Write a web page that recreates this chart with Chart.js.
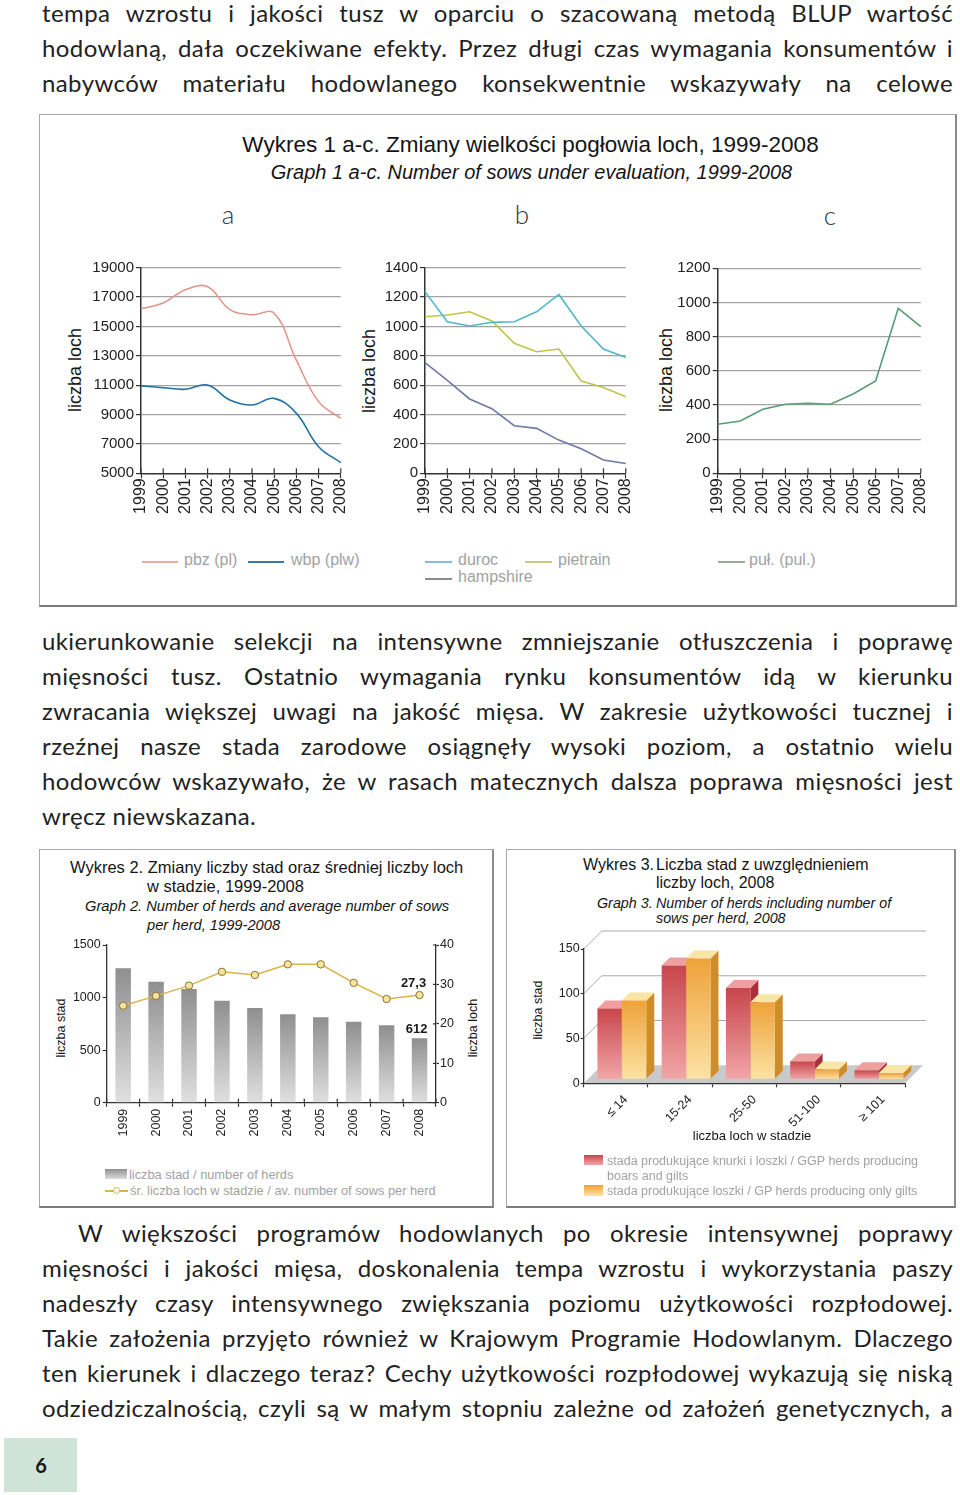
<!DOCTYPE html>
<html lang="pl">
<head>
<meta charset="utf-8">
<script src="https://cdn.jsdelivr.net/npm/chart.js@4.4.0/dist/chart.umd.min.js"></script>
<style>
  html,body{margin:0;padding:0;background:#fff;}
  body{width:960px;height:1495px;position:relative;overflow:hidden;}
  .jl{position:absolute;display:inline-block;white-space:pre;font-family:Lato,'Open Sans',sans-serif;font-weight:400;font-size:24px;letter-spacing:0.4px;line-height:35px;color:#222;}
  .t{position:absolute;white-space:nowrap;font-family:'Liberation Sans',Arial,sans-serif;color:#151515;}
  .cc{transform:translate(-50%,-50%);}
  .lc{transform:translateY(-50%);}
  .rot{transform:translate(-50%,-50%) rotate(-90deg);}
  .box{position:absolute;box-sizing:border-box;border-top:1px solid #a8a8a8;border-left:1px solid #a8a8a8;border-right:2px solid #8c8c8c;border-bottom:2px solid #7c7c7c;}
  canvas{position:absolute;}
  .lg{color:#a2a2a2;}
  .sw{position:absolute;}
</style>
</head>
<body>

<!-- top paragraph -->
<span class="jl" data-w="911" style="left:42px;top:-5px">tempa wzrostu i jakości tusz w oparciu o szacowaną metodą BLUP wartość</span>
<span class="jl" data-w="911" style="left:42px;top:30px">hodowlaną, dała oczekiwane efekty. Przez długi czas wymagania konsumentów i</span>
<span class="jl" data-w="911" style="left:42px;top:65px">nabywców materiału hodowlanego konsekwentnie wskazywały na celowe</span>

<!-- Graph 1 box -->
<div class="box" style="left:39px;top:114px;width:918px;height:493px;"></div>
<div class="t cc" style="left:530.5px;top:145px;font-size:22.5px;">Wykres 1 a-c. Zmiany wielkości pogłowia loch, 1999-2008</div>
<div class="t cc" style="left:531.5px;top:172px;font-size:20px;font-style:italic;">Graph 1 a-c. Number of sows under evaluation, 1999-2008</div>
<div class="t cc" style="left:228px;top:214px;font-size:26px;font-family:Lato,sans-serif;font-weight:300;color:#333;">a</div>
<div class="t cc" style="left:522px;top:214px;font-size:26px;font-family:Lato,sans-serif;font-weight:300;color:#333;">b</div>
<div class="t cc" style="left:830px;top:215px;font-size:26px;font-family:Lato,sans-serif;font-weight:300;color:#333;">c</div>
<div class="t rot" style="left:75px;top:370px;font-size:18px;">liczba loch</div>
<div class="t rot" style="left:369px;top:371px;font-size:18px;">liczba loch</div>
<div class="t rot" style="left:666px;top:370px;font-size:18px;">liczba loch</div>

<canvas id="ca"></canvas>
<canvas id="cb"></canvas>
<canvas id="cc"></canvas>

<!-- Graph 1 legends -->
<div class="sw" style="left:142px;top:561px;width:36px;height:2px;background:#e8aca4;"></div>
<div class="t lc lg" style="left:184px;top:560px;font-size:16px;">pbz (pl)</div>
<div class="sw" style="left:248px;top:561px;width:36px;height:2px;background:#3a7ca5;"></div>
<div class="t lc lg" style="left:291px;top:560px;font-size:16px;">wbp (plw)</div>
<div class="sw" style="left:425px;top:561px;width:27px;height:2px;background:#7ec0dc;"></div>
<div class="t lc lg" style="left:458px;top:560px;font-size:16px;">duroc</div>
<div class="sw" style="left:525px;top:561px;width:27px;height:2px;background:#c8cc80;"></div>
<div class="t lc lg" style="left:558px;top:560px;font-size:16px;">pietrain</div>
<div class="sw" style="left:425px;top:578px;width:27px;height:2px;background:#8a8a8a;"></div>
<div class="t lc lg" style="left:458px;top:577px;font-size:16px;">hampshire</div>
<div class="sw" style="left:718px;top:561px;width:27px;height:2px;background:#9aa8a0;"></div>
<div class="t lc lg" style="left:749px;top:560px;font-size:16px;">puł. (pul.)</div>

<!-- middle paragraph -->
<span class="jl" data-w="911" style="left:42px;top:623px">ukierunkowanie selekcji na intensywne zmniejszanie otłuszczenia i poprawę</span>
<span class="jl" data-w="911" style="left:42px;top:658px">mięsności tusz. Ostatnio wymagania rynku konsumentów idą w kierunku</span>
<span class="jl" data-w="911" style="left:42px;top:693px">zwracania większej uwagi na jakość mięsa. W zakresie użytkowości tucznej i</span>
<span class="jl" data-w="911" style="left:42px;top:728px">rzeźnej nasze stada zarodowe osiągnęły wysoki poziom, a ostatnio wielu</span>
<span class="jl" data-w="911" style="left:42px;top:763px">hodowców wskazywało, że w rasach matecznych dalsza poprawa mięsności jest</span>
<span class="jl" style="left:42px;top:798px">wręcz niewskazana.</span>

<!-- Graph 2 box -->
<div class="box" style="left:39px;top:849px;width:455px;height:359px;"></div>
<div class="t lc" style="left:70px;top:867px;font-size:16.5px;">Wykres 2. Zmiany liczby stad oraz średniej liczby loch</div>
<div class="t lc" style="left:147px;top:886px;font-size:16.5px;">w stadzie, 1999-2008</div>
<div class="t lc" style="left:85px;top:906px;font-size:14.7px;font-style:italic;">Graph 2. Number of herds and average number of sows</div>
<div class="t lc" style="left:147px;top:925px;font-size:14.7px;font-style:italic;">per herd, 1999-2008</div>
<div class="t rot" style="left:61px;top:1028px;font-size:12.5px;">liczba stad</div>
<div class="t rot" style="left:473px;top:1028px;font-size:12.5px;">liczba loch</div>
<canvas id="c2"></canvas>
<div class="sw" style="left:105px;top:1169px;width:22px;height:10px;background:linear-gradient(#8f8f8f,#dcdcdc);"></div>
<div class="t lc lg" style="left:129px;top:1174px;font-size:12.8px;">liczba stad / number of herds</div>
<div class="sw" style="left:105px;top:1190px;width:23px;height:1.5px;background:#dcb347;"></div>
<div class="sw" style="left:113px;top:1186.5px;width:7px;height:7px;border-radius:50%;box-sizing:border-box;border:1.3px solid #dcb347;background:#fff;"></div>
<div class="t lc lg" style="left:130px;top:1190px;font-size:12.8px;">śr. liczba loch w stadzie / av. number of sows per herd</div>

<!-- Graph 3 box -->
<div class="box" style="left:506px;top:849px;width:450px;height:359px;"></div>
<div class="t lc" style="left:583px;top:865px;font-size:16px;">Wykres 3.</div>
<div class="t lc" style="left:656px;top:865px;font-size:16px;">Liczba stad z uwzględnieniem</div>
<div class="t lc" style="left:656px;top:883px;font-size:16px;">liczby loch, 2008</div>
<div class="t lc" style="left:597px;top:903px;font-size:14.3px;font-style:italic;">Graph 3.</div>
<div class="t lc" style="left:656px;top:903px;font-size:14.3px;font-style:italic;">Number of herds including number of</div>
<div class="t lc" style="left:656px;top:918px;font-size:14.3px;font-style:italic;">sows per herd, 2008</div>
<div class="t rot" style="left:538px;top:1010px;font-size:12.5px;">liczba stad</div>
<canvas id="c3"></canvas>
<div class="t cc" style="left:752px;top:1135px;font-size:13px;">liczba loch w stadzie</div>
<div class="sw" style="left:584px;top:1155px;width:19px;height:10px;background:linear-gradient(#c7464b,#f2a6a8);"></div>
<div class="t lc lg" style="left:607px;top:1161px;font-size:12.5px;">stada produkujące knurki i loszki / GGP herds producing</div>
<div class="t lc lg" style="left:607px;top:1176px;font-size:12.5px;">boars and gilts</div>
<div class="sw" style="left:584px;top:1185px;width:19px;height:11px;background:linear-gradient(#eea23a,#fbe3a4);"></div>
<div class="t lc lg" style="left:607px;top:1191px;font-size:12.5px;">stada produkujące loszki / GP herds producing only gilts</div>

<!-- bottom paragraph -->
<span class="jl" data-w="875" style="left:78px;top:1215px">W większości programów hodowlanych po okresie intensywnej poprawy</span>
<span class="jl" data-w="911" style="left:42px;top:1250px">mięsności i jakości mięsa, doskonalenia tempa wzrostu i wykorzystania paszy</span>
<span class="jl" data-w="911" style="left:42px;top:1285px">nadeszły czasy intensywnego zwiększania poziomu użytkowości rozpłodowej.</span>
<span class="jl" data-w="911" style="left:42px;top:1320px">Takie założenia przyjęto również w Krajowym Programie Hodowlanym. Dlaczego</span>
<span class="jl" data-w="911" style="left:42px;top:1355px">ten kierunek i dlaczego teraz? Cechy użytkowości rozpłodowej wykazują się niską</span>
<span class="jl" data-w="911" style="left:42px;top:1390px">odziedziczalnością, czyli są w małym stopniu zależne od założeń genetycznych, a</span>

<!-- page number -->
<div class="sw" style="left:4px;top:1438px;width:73px;height:54px;background:#cfe3d7;"></div>
<div class="t cc" style="left:41px;top:1465px;font-size:20px;font-weight:bold;font-family:Lato,sans-serif;">6</div>

<script>
// ---------- DATA ----------
const years = ['1999','2000','2001','2002','2003','2004','2005','2006','2007','2008'];
// Graph 1a
const pbz = [16200,16600,17500,17700,16150,15800,15900,12700,9880,8740];
const wbp = [10950,10830,10720,11010,9990,9650,10100,9080,6810,5730];
// Graph 1b
const duroc = [1237,1032,1003,1028,1032,1100,1218,1003,846,789];
const pietrain = [1066,1078,1100,1037,885,828,846,628,585,521];
const hampshire = [753,632,506,440,324,306,226,167,90,67];
// Graph 1c
const pul = [287,306,375,404,410,404,464,540,966,859];
// Graph 2
const herds = [1278,1151,1081,970,901,841,812,770,736,612];
const sowsPerHerd = [24.6,27.1,29.7,33.2,32.4,35.1,35.1,30.4,26.3,27.3];
// Graph 3
const herdSizes = ['≤ 14','15-24','25-50','51-100','≥ 101'];
const ggpHerds = [79,127,102,20,10];
const gpHerds = [88,135,86,11,7];

const FONT = "'Liberation Sans', Arial, sans-serif";
const AX = '#333';
const plain = v => String(v);

function setCanvas(id, L, T, R, B) {
  const cv = document.getElementById(id);
  cv.width = R - L; cv.height = B - T;
  cv.style.left = L + 'px'; cv.style.top = T + 'px';
  cv.style.width = (R - L) + 'px'; cv.style.height = (B - T) + 'px';
  return cv;
}

function innerTicks(items) {
  return {
    id: 'innerTicks',
    afterDraw(chart) {
      const ctx = chart.ctx;
      items.forEach(it => {
        const s = chart.scales[it.axis];
        let pos = [];
        if (it.boundary) {
          const n = s.ticks.length;
          for (let i = 0; i <= n; i++) pos.push(s.left + i * (s.right - s.left) / n);
        } else {
          pos = s.ticks.map((t, i) => s.getPixelForTick(i));
        }
        ctx.save();
        ctx.strokeStyle = AX; ctx.lineWidth = 1.2;
        ctx.beginPath();
        pos.forEach(p => {
          if (s.isHorizontal()) { ctx.moveTo(p, s.top); ctx.lineTo(p, s.top - it.len); }
          else if (it.side === 'right') { ctx.moveTo(s.left, p); ctx.lineTo(s.left - it.len, p); }
          else { ctx.moveTo(s.right, p); ctx.lineTo(s.right + it.len, p); }
        });
        ctx.stroke();
        ctx.restore();
      });
    }
  };
}

function lineChart(id, L, T, R, B, pl, pt, pr, pb, sets, yMin, yMax, step, tension) {
  const cv = setCanvas(id, L, T, R, B);
  return new Chart(cv, {
    type: 'line',
    data: {
      labels: years,
      datasets: sets.map(d => ({
        label: d.label, data: d.data, borderColor: d.color, borderWidth: 1.6,
        pointRadius: 0, tension: tension, fill: false, clip: false
      }))
    },
    options: {
      responsive: false, animation: false, devicePixelRatio: 1,
      layout: { autoPadding: false, padding: { left: 0, top: pt - T, right: R - pr, bottom: 0 } },
      plugins: { legend: { display: false }, tooltip: { enabled: false } },
      scales: {
        x: {
          type: 'category', offset: false,
          grid: { display: true, drawOnChartArea: false, tickLength: 5, tickColor: AX, tickWidth: 1.2, color: AX },
          border: { display: true, color: AX, width: 1.5 },
          ticks: { autoSkip: false, minRotation: 90, maxRotation: 90, padding: 0, color: '#222', font: { family: FONT, size: 16 } },
          afterFit: s => { s.height = B - pb; }
        },
        y: {
          min: yMin, max: yMax,
          ticks: { stepSize: step, padding: 2, color: '#222', font: { family: FONT, size: 15 }, callback: plain },
          grid: {
            color: c => (c.tick && c.tick.value === yMin) ? 'rgba(0,0,0,0)' : '#a3a3a3',
            lineWidth: 1.2, tickLength: 5, tickColor: AX, tickWidth: 1.2
          },
          border: { color: AX, width: 1.5 },
          afterFit: s => { s.width = pl - L; }
        }
      }
    },
    plugins: [innerTicks([{ axis: 'x', len: 5 }])]
  });
}

function barGrad(c1, c2, axisId) {
  return ctx => {
    if (ctx.type !== 'data') return c1;
    const ch = ctx.chart, a = ch.chartArea;
    if (!a) return c1;
    const sc = ch.scales[axisId || 'y'];
    const top = sc.getPixelForValue(ctx.raw);
    const base = sc.getPixelForValue(0);
    if (!isFinite(top) || Math.abs(base - top) < 1) return c1;
    const g = ch.ctx.createLinearGradient(0, top, 0, base);
    g.addColorStop(0, c1); g.addColorStop(1, c2);
    return g;
  };
}

function build() {
  // Graph 1a
  lineChart('ca', 60, 255, 360, 525, 141, 267.7, 345, 473.3, [
    { label: 'pbz (pl)', data: pbz, color: '#e2968e' },
    { label: 'wbp (plw)', data: wbp, color: '#1f73a0' }
  ], 5000, 19000, 2000, 0.4);
  // Graph 1b
  lineChart('cb', 353, 255, 645, 525, 425, 267.7, 628, 473.3, [
    { label: 'duroc', data: duroc, color: '#4fb9c6' },
    { label: 'pietrain', data: pietrain, color: '#bfc548' },
    { label: 'hampshire', data: hampshire, color: '#6f78a6' }
  ], 0, 1400, 200, 0);
  // Graph 1c
  lineChart('cc', 645, 255, 940, 525, 717.7, 268.3, 921, 473.3, [
    { label: 'puł. (pul.)', data: pul, color: '#569c74' }
  ], 0, 1200, 200, 0);

  // Graph 2
  {
    const L = 45, T = 930, R = 490, B = 1150;
    const pl = 106.7, pt = 945, pr = 436, pb = 1102.7;
    const cv = setCanvas('c2', L, T, R, B);
    const labelPlugin = {
      id: 'lastLabels',
      afterDatasetsDraw(chart) {
        const ctx = chart.ctx;
        const bars = chart.getDatasetMeta(0).data;
        const pts = chart.getDatasetMeta(1).data;
        const n = herds.length - 1;
        ctx.save();
        ctx.font = 'bold 13px ' + FONT;
        ctx.fillStyle = '#1a1a1a';
        ctx.textAlign = 'center'; ctx.textBaseline = 'middle';
        ctx.fillText(String(sowsPerHerd[n]).replace('.', ','), pts[n].x - 6, pts[n].y - 12);
        ctx.fillText(String(herds[n]), bars[n].x - 3, bars[n].y - 9);
        ctx.restore();
      }
    };
    new Chart(cv, {
      type: 'bar',
      data: {
        labels: years,
        datasets: [
          { type: 'bar', label: 'liczba stad / number of herds', data: herds, yAxisID: 'y',
            backgroundColor: barGrad('#8f8f8f', '#e0e0e0', 'y'), borderWidth: 0,
            barPercentage: 0.47, categoryPercentage: 1, order: 1 },
          { type: 'line', label: 'śr. liczba loch w stadzie', data: sowsPerHerd, yAxisID: 'y1',
            borderColor: '#dcb347', borderWidth: 1.5, tension: 0,
            pointRadius: 3.7, pointBackgroundColor: '#f5e3a0', pointBorderColor: '#8c7430', pointBorderWidth: 1,
            order: 0, clip: false }
        ]
      },
      options: {
        responsive: false, animation: false, devicePixelRatio: 1,
        layout: { autoPadding: false, padding: { left: 0, top: pt - T, right: 0, bottom: 0 } },
        plugins: { legend: { display: false }, tooltip: { enabled: false } },
        scales: {
          x: {
            grid: { offset: true, drawOnChartArea: false, tickLength: 4, tickColor: AX, tickWidth: 1.2 },
            border: { color: AX, width: 1.3 },
            ticks: { autoSkip: false, minRotation: 90, maxRotation: 90, padding: 2, color: '#222', font: { family: FONT, size: 12.5 } },
            afterFit: s => { s.height = B - pb; }
          },
          y: {
            position: 'left', min: 0, max: 1500,
            ticks: { stepSize: 500, padding: 2, color: '#222', font: { family: FONT, size: 12.5 }, callback: plain },
            grid: { drawOnChartArea: false, tickLength: 4, tickColor: AX, tickWidth: 1.2 },
            border: { color: AX, width: 1.3 },
            afterFit: s => { s.width = pl - L; }
          },
          y1: {
            position: 'right', min: 0, max: 40,
            ticks: { stepSize: 10, padding: 1, color: '#222', font: { family: FONT, size: 12.5 }, callback: plain },
            grid: { drawOnChartArea: false, tickLength: 3, tickColor: AX, tickWidth: 1.2 },
            border: { color: AX, width: 1.3 },
            afterFit: s => { s.width = R - pr; }
          }
        }
      },
      plugins: [labelPlugin, innerTicks([{ axis: 'x', len: 4, boundary: true }, { axis: 'y1', len: 3, side: 'right' }])]
    });
  }

  // Graph 3
  {
    const L = 540, T = 920, R = 950, B = 1150;
    const pl = 583.7, pt = 949, pr = 905, pb = 1083.3;
    const cv = setCanvas('c3', L, T, R, B);
    const D = 18, d = 8, SX = 6, SY = -4;
    const topCols = ['#ef9fa0', '#f9e6a6'];
    const sideCols = ['#a8303a', '#cf8c2a'];
    const threeD = {
      id: 'threeD',
      beforeDraw(chart) {
        const { ctx, chartArea: a, scales: { y } } = chart;
        const y0 = y.getPixelForValue(0);
        ctx.save();
        ctx.fillStyle = '#c9c9c9';
        ctx.beginPath();
        ctx.moveTo(a.left, y0); ctx.lineTo(a.right, y0);
        ctx.lineTo(a.right + D, y0 - D); ctx.lineTo(a.left + D, y0 - D);
        ctx.closePath(); ctx.fill();
        ctx.strokeStyle = '#a9a9a9'; ctx.lineWidth = 1;
        y.ticks.forEach(t => {
          if (t.value === 0) return;
          const py = y.getPixelForValue(t.value);
          ctx.beginPath();
          ctx.moveTo(a.left, py); ctx.lineTo(a.left + D, py - D); ctx.lineTo(a.right + 21, py - D);
          ctx.stroke();
        });
        ctx.restore();
      },
      beforeDatasetsDraw(chart) {
        const ctx = chart.ctx;
        ctx.save();
        ctx.translate(SX, SY);
        for (let i = 0; i < chart.data.datasets.length; i++) {
          chart.getDatasetMeta(i).data.forEach(bar => {
            const l = bar.x - bar.width / 2, r = bar.x + bar.width / 2, top = bar.y, base = bar.base;
            ctx.fillStyle = sideCols[i];
            ctx.beginPath();
            ctx.moveTo(r, top); ctx.lineTo(r + d, top - d); ctx.lineTo(r + d, base - d); ctx.lineTo(r, base);
            ctx.closePath(); ctx.fill();
            ctx.fillStyle = topCols[i];
            ctx.beginPath();
            ctx.moveTo(l, top); ctx.lineTo(r, top); ctx.lineTo(r + d, top - d); ctx.lineTo(l + d, top - d);
            ctx.closePath(); ctx.fill();
          });
        }
      },
      afterDatasetsDraw(chart) {
        chart.ctx.restore();
      }
    };
    new Chart(cv, {
      type: 'bar',
      data: {
        labels: herdSizes,
        datasets: [
          { label: 'GGP', data: ggpHerds, backgroundColor: barGrad('#c7464b', '#f2a6a8', 'y'), borderWidth: 0,
            categoryPercentage: 0.76, barPercentage: 1, clip: false },
          { label: 'GP', data: gpHerds, backgroundColor: barGrad('#eea23a', '#fbe3a4', 'y'), borderWidth: 0,
            categoryPercentage: 0.76, barPercentage: 1, clip: false }
        ]
      },
      options: {
        responsive: false, animation: false, devicePixelRatio: 1,
        layout: { autoPadding: false, padding: { left: 0, top: pt - T, right: R - pr, bottom: 0 } },
        plugins: { legend: { display: false }, tooltip: { enabled: false } },
        scales: {
          x: {
            grid: { offset: true, drawOnChartArea: false, tickLength: 4, tickColor: AX, tickWidth: 1.2 },
            border: { color: AX, width: 1.3 },
            ticks: { autoSkip: false, minRotation: 45, maxRotation: 45, labelOffset: 10, padding: 5, color: '#222', font: { family: FONT, size: 12.5 } },
            afterFit: s => { s.height = B - pb; }
          },
          y: {
            min: 0, max: 150,
            ticks: { stepSize: 50, padding: 1, color: '#222', font: { family: FONT, size: 12.5 }, callback: plain },
            grid: { drawOnChartArea: false, tickLength: 3, tickColor: AX, tickWidth: 1.2 },
            border: { color: AX, width: 1.3 },
            afterFit: s => { s.width = pl - L; }
          }
        }
      },
      plugins: [threeD]
    });
  }
}

function justify() {
  document.querySelectorAll('.jl[data-w]').forEach(el => {
    el.style.wordSpacing = '0px';
    el.style.letterSpacing = '';
    const target = +el.dataset.w;
    const w = el.getBoundingClientRect().width;
    const n = (el.textContent.match(/ /g) || []).length;
    if (!n) return;
    let ws = (target - w) / n;
    if (ws < -2) {
      const chars = el.textContent.length;
      const ls = 0.4 + (target - w + 2 * n) / chars;
      el.style.letterSpacing = ls + 'px';
      ws = -2;
    }
    el.style.wordSpacing = ws + 'px';
  });
}

build();
justify();
if (document.fonts && document.fonts.ready) document.fonts.ready.then(justify);
</script>
</body>
</html>
